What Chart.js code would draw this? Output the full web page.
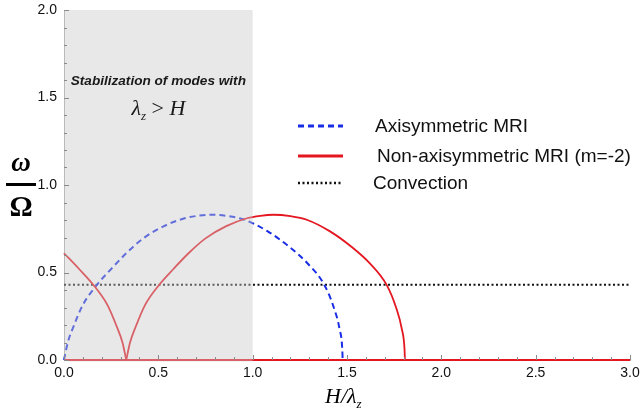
<!DOCTYPE html>
<html>
<head>
<meta charset="utf-8">
<script src="https://cdn.jsdelivr.net/npm/chart.js@4.4.1/dist/chart.umd.min.js"></script>
<style>
  html, body { margin: 0; padding: 0; background: #fff; }
  #wrap { width: 640px; height: 412px; }
</style>
</head>
<body>
<div id="wrap"><canvas id="c" width="640" height="412"></canvas></div>
<script>
// values (x = H/lambda_z, y = omega/Omega)
var axiX = [0, 0.02, 0.05, 0.10, 0.175, 0.25, 0.33, 0.42, 0.53, 0.64, 0.71, 0.78, 0.87, 0.96, 1.08, 1.19, 1.29, 1.38, 1.43, 1.46, 1.475, 1.477];
var axiY = [0, 0.10, 0.19, 0.315, 0.43, 0.52, 0.61, 0.695, 0.765, 0.81, 0.824, 0.83, 0.822, 0.80, 0.735, 0.65, 0.553, 0.429, 0.30, 0.18, 0.06, 0];

// non-axisymmetric branch below the cusp
var nonLeftX = [0, 0.08, 0.155, 0.23, 0.28, 0.31, 0.33];
var nonLeftY = [0.61, 0.52, 0.43, 0.315, 0.19, 0.10, 0];
// non-axisymmetric arch
var nonArchX = [0.33, 0.35, 0.38, 0.43, 0.505, 0.58, 0.66, 0.75, 0.86, 0.97, 1.04, 1.11, 1.20, 1.29, 1.41, 1.52, 1.62, 1.71, 1.76, 1.79, 1.805, 1.807];
var nonArchY = [0, 0.10, 0.19, 0.315, 0.43, 0.52, 0.61, 0.695, 0.765, 0.81, 0.824, 0.83, 0.822, 0.80, 0.735, 0.65, 0.553, 0.429, 0.30, 0.18, 0.06, 0];
// stable part, omega = 0
var nonBaseX = [0, 3.0];
var nonBaseY = [0, 0];

var convX = [0, 3.0];
var convY = [0.43, 0.43];

var shadeRange = [0, 1.0];
var xTicks = [0, 0.5, 1.0, 1.5, 2.0, 2.5, 3.0];
var yTicks = [0, 0.5, 1.0, 1.5, 2.0];

var BLUE = 'rgb(25,45,230)';
var RED = 'rgb(228,22,32)';
var BLACK = '#111';

function pts(xs, ys) {
    return xs.map(function (x, i) { return { x: x, y: ys[i] }; });
}

// gray band drawn over the curves (that is why they look paler inside it)
var shadePlugin = {
    id: 'shade',
    afterDatasetsDraw: function (chart) {
        var ctx = chart.ctx, xs = chart.scales.x, ys = chart.scales.y;
        var x0 = xs.getPixelForValue(shadeRange[0]);
        var x1 = xs.getPixelForValue(shadeRange[1]);
        var top = chart.chartArea.top, bot = ys.getPixelForValue(0) + 1.5;
        ctx.save();
        ctx.fillStyle = 'rgba(200,200,200,0.42)';
        ctx.fillRect(x0, top, x1 - x0, bot - top);

        var cx = (x0 + x1) / 2;
        ctx.fillStyle = '#1a1a1a';
        ctx.textAlign = 'center';
        ctx.textBaseline = 'alphabetic';
        ctx.font = 'italic bold 13.6px "Liberation Sans", Arial, sans-serif';
        ctx.fillText('Stabilization of modes with', cx, 85);

        // λz > H
        ctx.textAlign = 'left';
        var big = 'italic 22px "Liberation Serif", "Times New Roman", serif';
        var small = 'italic 13px "Liberation Serif", "Times New Roman", serif';
        var rest = ' > ';
        ctx.font = big; var wl = ctx.measureText('λ').width;
        ctx.font = small; var wz = ctx.measureText('z').width;
        ctx.font = '22px "Liberation Serif", serif'; var wg = ctx.measureText(rest).width;
        ctx.font = big; var wh = ctx.measureText('H').width;
        var sx = cx - (wl + wz + wg + wh) / 2, by = 115;
        ctx.font = big; ctx.fillText('λ', sx, by);
        ctx.font = small; ctx.fillText('z', sx + wl, by + 5);
        ctx.font = '22px "Liberation Serif", serif'; ctx.fillText(rest, sx + wl + wz, by);
        ctx.font = big; ctx.fillText('H', sx + wl + wz + wg, by);
        ctx.restore();
    }
};

var decorPlugin = {
    id: 'decor',
    afterDraw: function (chart) {
        var ctx = chart.ctx, xs = chart.scales.x, ys = chart.scales.y;
        var x0 = xs.getPixelForValue(0), y0 = ys.getPixelForValue(0);
        ctx.save();
        // inward ticks, major every 0.5, minor every 0.1
        ctx.strokeStyle = '#8a8a8a';
        ctx.lineWidth = 1;
        ctx.beginPath();
        for (var i = 0; i <= 30; i++) {
            var px = Math.round(xs.getPixelForValue(i / 10)) + 0.5;
            var len = (i % 5 === 0) ? 5 : 3;
            ctx.moveTo(px, y0); ctx.lineTo(px, y0 - len);
        }
        for (var j = 0; j <= 20; j++) {
            var py = Math.round(ys.getPixelForValue(j / 10)) + 0.5;
            var l2 = (j % 5 === 0) ? 5 : 3;
            ctx.moveTo(x0, py); ctx.lineTo(x0 + l2, py);
        }
        ctx.stroke();

        // y title: omega over Omega
        ctx.fillStyle = '#000';
        ctx.textAlign = 'center';
        ctx.textBaseline = 'alphabetic';
        ctx.font = 'italic bold 27px "Liberation Serif", "Times New Roman", serif';
        ctx.fillText('ω', 21, 171);
        ctx.fillRect(6, 183, 30, 3);
        ctx.font = 'bold 29px "Liberation Serif", "Times New Roman", serif';
        ctx.fillText('Ω', 21, 216);

        // x title: H/λz
        ctx.textAlign = 'left';
        var big = 'italic 22px "Liberation Serif", "Times New Roman", serif';
        ctx.font = big;
        var t = 'H/λ';
        ctx.fillText(t, 325, 403);
        var wt = ctx.measureText(t).width;
        ctx.font = 'italic 13px "Liberation Serif", "Times New Roman", serif';
        ctx.fillText('z', 325 + wt, 408);

        // legend
        var rows = [
            { ds: 0, y: 126, tx: 375 },
            { ds: 1, y: 156, tx: 377 },
            { ds: 4, y: 183, tx: 373 }
        ];
        ctx.font = '19px "Liberation Sans", Arial, sans-serif';
        ctx.textBaseline = 'middle';
        rows.forEach(function (r) {
            var d = chart.data.datasets[r.ds];
            ctx.save();
            ctx.strokeStyle = d.borderColor;
            ctx.lineWidth = d.legendWidth;
            ctx.setLineDash(d.borderDash || []);
            ctx.beginPath();
            ctx.moveTo(298, r.y); ctx.lineTo(343, r.y);
            ctx.stroke();
            ctx.restore();
            ctx.fillStyle = '#111';
            ctx.fillText(d.label, r.tx, r.y + 1);
        });
        ctx.restore();
    }
};

var ctx = document.getElementById('c').getContext('2d');
new Chart(ctx, {
    type: 'scatter',
    data: {
        datasets: [
            { label: 'Axisymmetric MRI', data: pts(axiX, axiY), borderColor: BLUE, borderWidth: 2, borderDash: [6, 4], legendWidth: 3, cubicInterpolationMode: 'monotone', order: 2 },
            { label: 'Non-axisymmetric MRI (m=-2)', data: pts(nonArchX, nonArchY), borderColor: RED, borderWidth: 1.8, legendWidth: 3, cubicInterpolationMode: 'monotone', order: 1 },
            { label: '', data: pts(nonLeftX, nonLeftY), borderColor: RED, borderWidth: 1.8, cubicInterpolationMode: 'monotone', order: 1 },
            { label: '', data: pts(nonBaseX, nonBaseY), borderColor: RED, borderWidth: 1.8, order: 1 },
            { label: 'Convection', data: pts(convX, convY), borderColor: BLACK, borderWidth: 1.8, borderDash: [2, 2.5], legendWidth: 2.5, order: 3 }
        ].map(function (d) {
            d.showLine = true; d.pointRadius = 0; d.pointHoverRadius = 0; d.fill = false; d.clip = 6;
            return d;
        })
    },
    options: {
        responsive: false,
        animation: false,
        events: [],
        layout: { padding: { left: 0, top: 10, right: 10, bottom: 0 } },
        scales: {
            x: {
                type: 'linear',
                min: 0, max: 3,
                afterFit: function (s) { s.height = 52; },
                afterBuildTicks: function (s) { s.ticks = xTicks.map(function (v) { return { value: v }; }); },
                grid: { display: true, drawOnChartArea: false, drawTicks: true, tickLength: 5, tickColor: 'rgba(0,0,0,0)' },
                border: { display: true, color: '#b0b0b0', width: 1 },
                ticks: {
                    padding: 0,
                    color: '#111',
                    maxRotation: 0,
                    autoSkip: false,
                    font: { family: '"Liberation Sans", Arial, sans-serif', size: 14 },
                    callback: function (v) { return Number(v).toFixed(1); }
                }
            },
            y: {
                type: 'linear',
                min: 0, max: 2,
                afterFit: function (s) { s.width = 64; },
                afterBuildTicks: function (s) { s.ticks = yTicks.map(function (v) { return { value: v }; }); },
                grid: { display: true, drawOnChartArea: false, drawTicks: true, tickLength: 7, tickColor: 'rgba(0,0,0,0)' },
                border: { display: true, color: '#b0b0b0', width: 1 },
                ticks: {
                    padding: 0,
                    color: '#111',
                    autoSkip: false,
                    font: { family: '"Liberation Sans", Arial, sans-serif', size: 14 },
                    callback: function (v) { return Number(v).toFixed(1); }
                }
            }
        },
        plugins: {
            legend: { display: false },
            tooltip: { enabled: false }
        }
    },
    plugins: [shadePlugin, decorPlugin]
});
</script>
</body>
</html>
